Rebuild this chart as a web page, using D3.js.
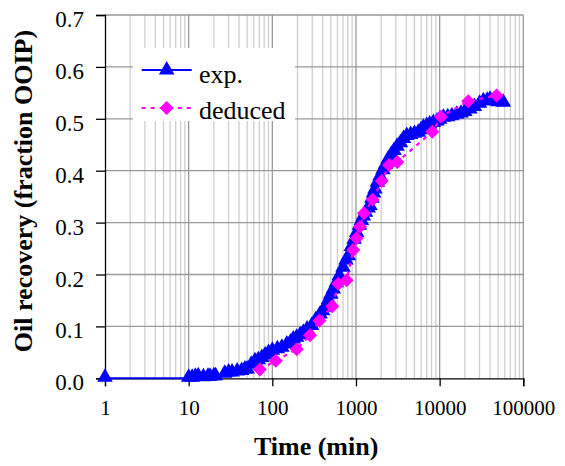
<!DOCTYPE html>
<html><head><meta charset="utf-8">
<script src="https://cdn.jsdelivr.net/npm/d3@7"></script>
<style>body{margin:0;background:#fff}svg{display:block}svg text{font-family:"Liberation Serif","Times New Roman",serif}</style>
</head><body><svg id="c" width="565" height="466"></svg>
<script>
const expTime = [1,10,11,12,13,15,17,18,20,21,27,30,33,38,43,47,50,56,62,68,75,82,90,100,115,130,149,165,178,195,215,235,260,295,330,372,400,427,470,500,536,580,632,700,760,812,880,950,1019,1100,1160,1225,1300,1400,1470,1550,1620,1687,1800,1937,2100,2250,2437,2650,2851,3100,3400,3700,4044,4500,5000,5561,6000,6384,7000,7600,8414,9300,10000,11090,12500,14000,16000,18000,20000,23000,26000,30000,33300,37000,40000,45000,50000,57700];
const expRecovery = [0,0,0,0.002,0.003,0.001,0.002,0.002,0.003,0.003,0.008,0.010,0.010,0.012,0.013,0.016,0.016,0.025,0.032,0.034,0.038,0.043,0.048,0.052,0.055,0.058,0.064,0.068,0.074,0.077,0.082,0.087,0.093,0.100,0.111,0.122,0.128,0.135,0.150,0.160,0.170,0.182,0.196,0.212,0.226,0.234,0.252,0.266,0.279,0.293,0.302,0.311,0.318,0.326,0.331,0.345,0.355,0.363,0.376,0.388,0.400,0.410,0.421,0.430,0.437,0.445,0.452,0.460,0.466,0.468,0.470,0.472,0.477,0.482,0.485,0.488,0.491,0.494,0.497,0.501,0.502,0.504,0.507,0.509,0.512,0.517,0.522,0.528,0.533,0.534,0.536,0.533,0.531,0.530];
const dedTime = [71,110,196,282,365,521,615,774,929,1019,1117,1247,1585,2029,2482,3120,8170,10380,22000,47900];
const dedRecovery = [0.017,0.034,0.056,0.083,0.111,0.139,0.182,0.189,0.247,0.270,0.292,0.318,0.344,0.380,0.411,0.417,0.475,0.504,0.534,0.545];
const xTickValues = [1,10,100,1000,10000,100000];
const yTickValues = [0,0.1,0.2,0.3,0.4,0.5,0.6,0.7];
const seriesNames = ["exp.","deduced"];

const svg = d3.select("#c");
const L=105, R=523.3, T=15, B=378.3;
const x = d3.scaleLog().domain([1,100000]).range([L,R]);
const y = d3.scaleLinear().domain([0,0.7]).range([B,T]);
const font = '"Liberation Serif","Times New Roman",serif';

// minor vertical grid
const minor=[];
for(let d=1; d<100000; d*=10) for(let k=2;k<=9;k++) minor.push(d*k);
svg.append("g").selectAll("line").data(minor).join("line")
  .attr("x1",d=>x(d)).attr("x2",d=>x(d)).attr("y1",T).attr("y2",B)
  .attr("stroke","#cfcfcf").attr("stroke-width",1.3);
// major vertical grid
svg.append("g").selectAll("line").data(xTickValues.slice(1)).join("line")
  .attr("x1",d=>x(d)).attr("x2",d=>x(d)).attr("y1",T).attr("y2",B)
  .attr("stroke","#999").attr("stroke-width",1.3);
// horizontal grid
svg.append("g").selectAll("line").data(yTickValues.slice(1)).join("line")
  .attr("x1",L).attr("x2",R).attr("y1",d=>y(d)).attr("y2",d=>y(d))
  .attr("stroke","#999").attr("stroke-width",1.3);

// axes
const yAxis = d3.axisLeft(y).tickValues(yTickValues).tickFormat(d3.format(".1f")).tickSize(9).tickPadding(12);
const gy = svg.append("g").attr("transform",`translate(${L},0)`).call(yAxis).attr("font-family",null);
gy.select(".domain").attr("stroke","#000").attr("stroke-width",1.3);
gy.selectAll(".tick line").attr("stroke","#000").attr("stroke-width",1.3);
gy.selectAll("text").style("font-family",font).attr("font-size",23).attr("fill","#000").attr("dy","0.5em");

const xAxis = d3.axisBottom(x).tickValues(xTickValues).tickFormat(d3.format("d")).tickSize(8).tickPadding(14);
const gx = svg.append("g").attr("transform",`translate(0,${B})`).call(xAxis).attr("font-family",null);
gx.select(".domain").attr("stroke","#000").attr("stroke-width",1.3);
gx.selectAll(".tick line").attr("stroke","#000").attr("stroke-width",1.3);
gx.selectAll("text").style("font-family",font).attr("font-size",21).attr("fill","#000");

// titles
svg.append("text").attr("x",(L+R)/2+2).attr("y",455).attr("text-anchor","middle")
  .style("font-family",font).attr("font-weight","bold").attr("font-size",26).text("Time (min)");
svg.append("text").attr("transform",`translate(32,191) rotate(-90)`).attr("text-anchor","middle")
  .style("font-family",font).attr("font-weight","bold").attr("font-size",26).text("Oil recovery (fraction OOIP)");

// series
const tri = d3.symbol().type(d3.symbolTriangle).size(105);
const dia = d3.symbol().type(d3.symbolSquare).size(98);
const expData = expTime.map((t,i)=>[t,expRecovery[i]]);
const dedData = dedTime.map((t,i)=>[t,dedRecovery[i]]);
const line = d3.line().x(d=>x(d[0])).y(d=>y(d[1]));

svg.append("path").datum(expData).attr("d",line).attr("fill","none").attr("stroke","#0000ff").attr("stroke-width",2);
svg.append("g").selectAll("path").data(expData).join("path")
  .attr("d",tri).attr("transform",d=>`translate(${x(d[0])},${y(d[1])-1})`).attr("fill","#0000ff");

svg.append("path").datum(dedData).attr("d",line).attr("fill","none").attr("stroke","#ff00ff").attr("stroke-width",2.2).attr("stroke-dasharray","4,5");
svg.append("g").selectAll("path").data(dedData).join("path")
  .attr("d",dia).attr("transform",d=>`translate(${x(d[0])},${y(d[1])}) rotate(45)`).attr("fill","#ff00ff");

// legend
const lg = svg.append("g");
lg.append("rect").attr("x",133).attr("y",48).attr("width",162).attr("height",73).attr("fill","#fff");
lg.append("line").attr("x1",141.7).attr("x2",191.7).attr("y1",70).attr("y2",70).attr("stroke","#0000ff").attr("stroke-width",2);
lg.append("path").attr("d",tri).attr("transform","translate(166.7,70)").attr("fill","#0000ff");
lg.append("text").attr("x",199).attr("y",83).style("font-family",font).attr("font-size",26).text(seriesNames[0]);
lg.append("line").attr("x1",141.7).attr("x2",191.7).attr("y1",108).attr("y2",108).attr("stroke","#ff00ff").attr("stroke-width",2.2).attr("stroke-dasharray","4,5");
lg.append("path").attr("d",dia).attr("transform","translate(166.7,108) rotate(45)").attr("fill","#ff00ff");
lg.append("text").attr("x",199).attr("y",119).style("font-family",font).attr("font-size",26).text(seriesNames[1]);
</script></body></html>
